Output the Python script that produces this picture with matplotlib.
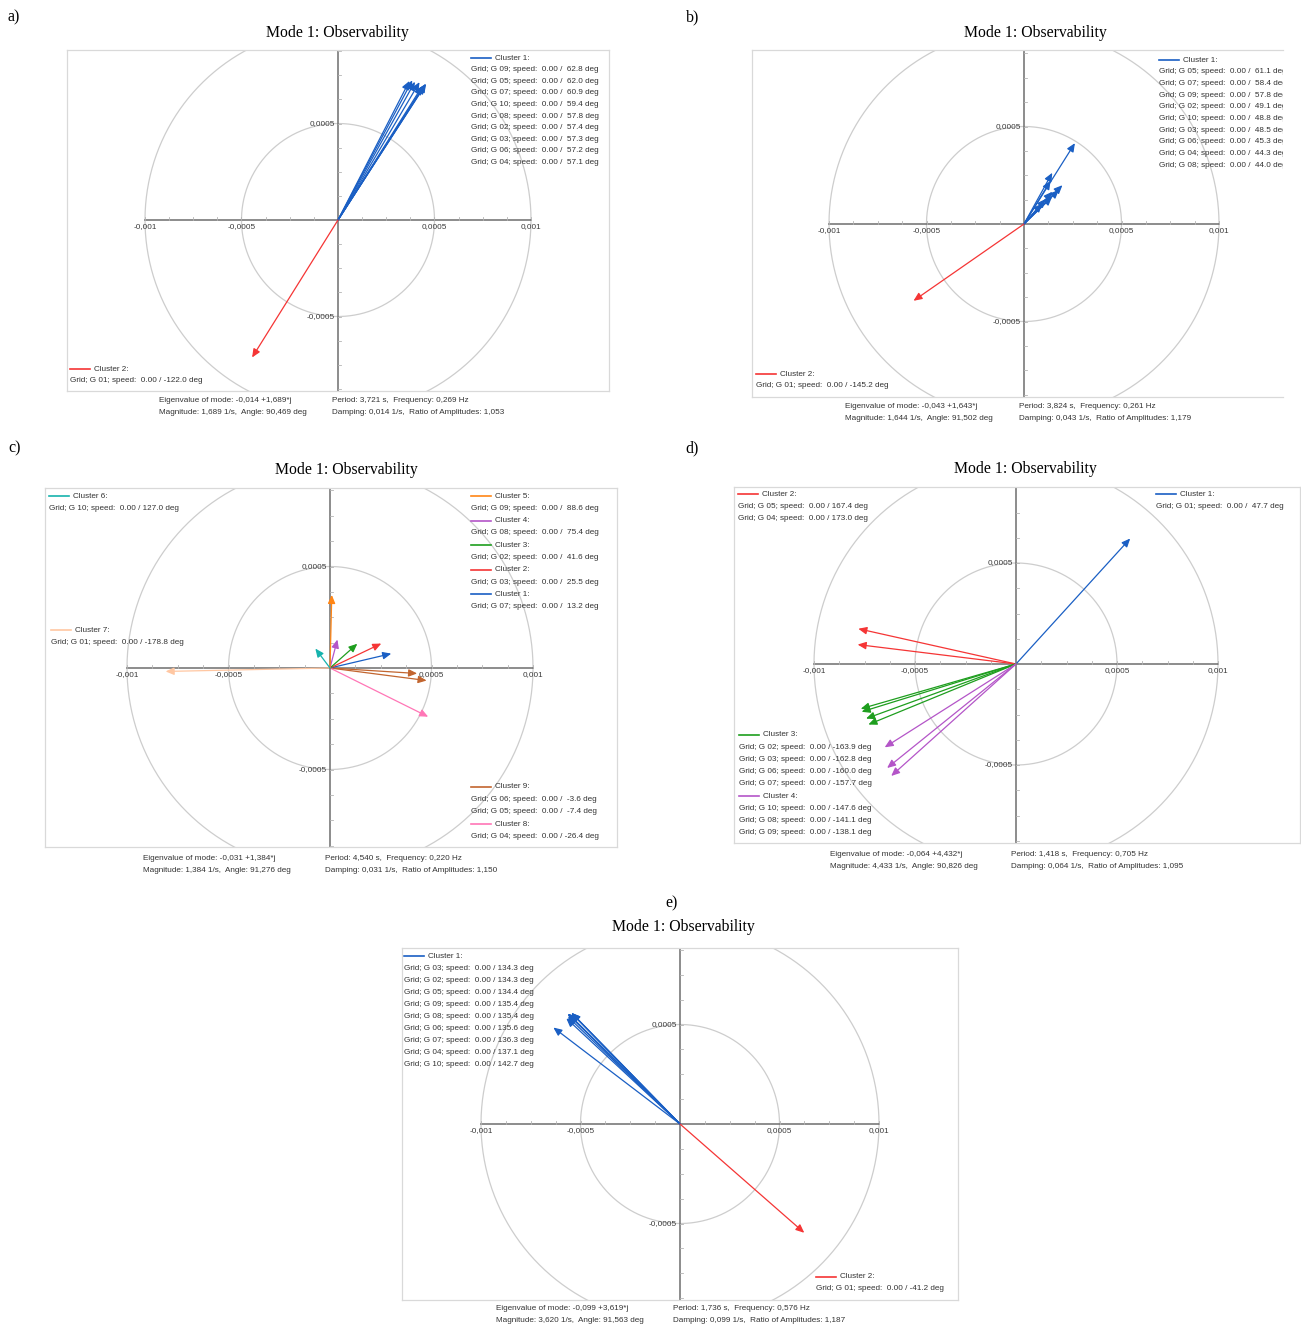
import numpy as np
import matplotlib
matplotlib.use("Agg")
import matplotlib.pyplot as plt

W, H = 1301, 1332
SANS = "Liberation Sans"
SERIF = "Liberation Serif"
FS = 5.9

# ---------------- data ----------------
# panel a
a_c1_grid = ["G 09", "G 05", "G 07", "G 10", "G 08", "G 02", "G 03", "G 06", "G 04"]
a_c1_ang = [62.8, 62.0, 60.9, 59.4, 57.8, 57.4, 57.3, 57.2, 57.1]
a_c1_mag = [0.00081, 0.00082, 0.00082, 0.00083, 0.00082, 0.00083, 0.00083, 0.00084, 0.00084]
a_c2_grid = ["G 01"]
a_c2_ang = [-122.0]
a_c2_mag = [0.00084]
a_info = ["Eigenvalue of mode: -0,014 +1,689*j", "Magnitude: 1,689 1/s,  Angle: 90,469 deg",
          "Period: 3,721 s,  Frequency: 0,269 Hz", "Damping: 0,014 1/s,  Ratio of Amplitudes: 1,053"]

# panel b
b_c1_grid = ["G 05", "G 07", "G 09", "G 02", "G 10", "G 03", "G 06", "G 04", "G 08"]
b_c1_ang = [61.1, 58.4, 57.8, 49.1, 48.8, 48.5, 45.3, 44.3, 44.0]
b_c1_mag = [0.00030, 0.00026, 0.00049, 0.00017, 0.00022, 0.00014, 0.00028, 0.00025, 0.00020]
b_c2_grid = ["G 01"]
b_c2_ang = [-145.2]
b_c2_mag = [0.00069]
b_info = ["Eigenvalue of mode: -0,043 +1,643*j", "Magnitude: 1,644 1/s,  Angle: 91,502 deg",
          "Period: 3,824 s,  Frequency: 0,261 Hz", "Damping: 0,043 1/s,  Ratio of Amplitudes: 1,179"]

# panel c
c_grid = {1: ["G 07"], 2: ["G 03"], 3: ["G 02"], 4: ["G 08"], 5: ["G 09"],
          6: ["G 10"], 7: ["G 01"], 8: ["G 04"], 9: ["G 06", "G 05"]}
c_ang = {1: [13.2], 2: [25.5], 3: [41.6], 4: [75.4], 5: [88.6],
         6: [127.0], 7: [-178.8], 8: [-26.4], 9: [-3.6, -7.4]}
c_mag = {1: [0.00031], 2: [0.00028], 3: [0.00018], 4: [0.000145], 5: [0.00036],
         6: [0.00012], 7: [0.00081], 8: [0.00054], 9: [0.00043, 0.00048]}
c_info = ["Eigenvalue of mode: -0,031 +1,384*j", "Magnitude: 1,384 1/s,  Angle: 91,276 deg",
          "Period: 4,540 s,  Frequency: 0,220 Hz", "Damping: 0,031 1/s,  Ratio of Amplitudes: 1,150"]

# panel d
d_grid = {1: ["G 01"], 2: ["G 05", "G 04"], 3: ["G 02", "G 03", "G 06", "G 07"],
          4: ["G 10", "G 08", "G 09"]}
d_ang = {1: [47.7], 2: [167.4, 173.0], 3: [-163.9, -162.8, -160.0, -157.7],
         4: [-147.6, -141.1, -138.1]}
d_mag = {1: [0.00084], 2: [0.00080, 0.00079], 3: [0.00080, 0.00080, 0.00079, 0.00079],
         4: [0.00077, 0.00082, 0.00083]}
d_info = ["Eigenvalue of mode: -0,064 +4,432*j", "Magnitude: 4,433 1/s,  Angle: 90,826 deg",
          "Period: 1,418 s,  Frequency: 0,705 Hz", "Damping: 0,064 1/s,  Ratio of Amplitudes: 1,095"]

# panel e
e_c1_grid = ["G 03", "G 02", "G 05", "G 09", "G 08", "G 06", "G 07", "G 04", "G 10"]
e_c1_ang = [134.3, 134.3, 134.4, 135.4, 135.4, 135.6, 136.3, 137.1, 142.7]
e_c1_mag = [0.00078, 0.00078, 0.00078, 0.00079, 0.00079, 0.00079, 0.00078, 0.00078, 0.00080]
e_c2_grid = ["G 01"]
e_c2_ang = [-41.2]
e_c2_mag = [0.00083]
e_info = ["Eigenvalue of mode: -0,099 +3,619*j", "Magnitude: 3,620 1/s,  Angle: 91,563 deg",
          "Period: 1,736 s,  Frequency: 0,576 Hz", "Damping: 0,099 1/s,  Ratio of Amplitudes: 1,187"]

tick_vals = [-0.001, -0.0005, 0.0005, 0.001]
tick_labels = ["-0,001", "-0,0005", "0,0005", "0,001"]

BLUE = "#1a5fc4"
RED = "#f53535"
GREEN = "#1e9e1e"
PURPLE = "#b455c8"
ORANGE = "#ff8515"
TEAL = "#16b3ad"
PEACH = "#ffc7a2"
PINK = "#ff76b6"
BROWN = "#c2652f"

fig = plt.figure(figsize=(W / 100, H / 100), dpi=100)


def row_text(grid, ang):
    return f"Grid; {grid}; speed:  0.00 / {ang:5.1f} deg"


def make_panel(box, origin, scale, hide_right=False):
    x0, y0, x1, y1 = box
    ax = fig.add_axes([x0 / W, 1 - y1 / H, (x1 - x0) / W, (y1 - y0) / H])
    ox, oy = origin
    s = scale * 1000.0
    ax.set_xlim((x0 - ox) / s, (x1 - ox) / s)
    ax.set_ylim((oy - y1) / s, (oy - y0) / s)
    ax.set_xticks([])
    ax.set_yticks([])
    for sp in ax.spines.values():
        sp.set_color("#d9d9d9")
        sp.set_linewidth(0.9)
    if hide_right:
        ax.spines["right"].set_visible(False)
    t = np.linspace(0, 2 * np.pi, 500)
    for r in (0.0005, 0.001):
        ax.plot(r * np.cos(t), r * np.sin(t), color="#cdcdcd", lw=0.9, zorder=1)
    ax.plot([-0.001, 0.001], [0, 0], color="#6e6e6e", lw=1.1, zorder=2)
    ax.axvline(0, color="#6e6e6e", lw=1.1, zorder=2)
    tl = 3.0 / s
    for k in range(-8, 9):
        if k == 0:
            continue
        v = k * 0.000125
        ax.plot([v, v], [0, tl], color="#b4b4b4", lw=0.6, zorder=2)
        ax.plot([0, tl], [v, v], color="#b4b4b4", lw=0.6, zorder=2)
    for v, lab in zip(tick_vals, tick_labels):
        ax.annotate(lab, (v, 0), xytext=(0, -2.5), textcoords="offset points",
                    ha="center", va="top", fontsize=FS, family=SANS, color="#3a3a3a")
        if abs(v) < 0.0008:
            ax.annotate(lab, (0, v), xytext=(-2.2, 0), textcoords="offset points",
                        ha="right", va="center", fontsize=FS, family=SANS, color="#3a3a3a")
    ax.box_px = box
    return ax


def arrows(ax, angs, mags, color):
    for a, m in zip(angs, mags):
        r = np.deg2rad(a)
        ax.annotate("", xy=(m * np.cos(r), m * np.sin(r)), xytext=(0, 0),
                    arrowprops=dict(arrowstyle="-|>,head_length=0.5,head_width=0.22",
                                    color=color, lw=0.9, shrinkA=0, shrinkB=0,
                                    mutation_scale=10), zorder=3)


def legend(ax, x, y, step, blocks, clip=False):
    x0, y0, x1, y1 = ax.box_px
    w, h = x1 - x0, y1 - y0
    i = 0
    for name, color, rows in blocks:
        yy = y + i * step
        fy = (y1 - yy) / h
        fx = (x - x0) / w
        ax.plot([fx, fx + 20 / w], [fy, fy], transform=ax.transAxes, color=color,
                lw=1.2, clip_on=False)
        ax.text(fx + 24 / w, fy, name, transform=ax.transAxes, ha="left", va="center",
                fontsize=FS, family=SANS, color="#333333", clip_on=clip)
        i += 1
        for r in rows:
            yy = y + i * step
            ax.text(fx, (y1 - yy) / h, r, transform=ax.transAxes, ha="left", va="center",
                    fontsize=FS, family=SANS, color="#333333", clip_on=clip)
            i += 1


def header(label, lx, ly, tx, ty):
    fig.text(lx / W, 1 - ly / H, label, ha="left", va="center", family=SERIF, fontsize=11.5)
    fig.text(tx / W, 1 - ty / H, "Mode 1: Observability", ha="center", va="center",
             family=SERIF, fontsize=11.3)


def info(lines, x1, x2, y):
    for k, (xx, txt) in enumerate(zip([x1, x1, x2, x2], lines)):
        yy = y + (k % 2) * 12
        fig.text(xx / W, 1 - yy / H, txt, ha="left", va="center", family=SANS,
                 fontsize=FS, color="#333333")


# ---------------- panel a ----------------
header("a)", 8, 17, 337, 33)
ax = make_panel((67, 50, 609, 391), (338, 220), 193)
arrows(ax, a_c1_ang, a_c1_mag, BLUE)
arrows(ax, a_c2_ang, a_c2_mag, RED)
legend(ax, 471, 58, 11.6, [("Cluster 1:", BLUE, [row_text(g, a) for g, a in zip(a_c1_grid, a_c1_ang)])])
legend(ax, 70, 369, 11.8, [("Cluster 2:", RED, [row_text(g, a) for g, a in zip(a_c2_grid, a_c2_ang)])])
info(a_info, 159, 332, 400)

# ---------------- panel b ----------------
header("b)", 686, 17, 1035, 33)
ax = make_panel((752, 50, 1283, 397), (1024, 224), 195, hide_right=True)
arrows(ax, b_c1_ang, b_c1_mag, BLUE)
arrows(ax, b_c2_ang, b_c2_mag, RED)
legend(ax, 1159, 60, 11.7, [("Cluster 1:", BLUE, [row_text(g, a) for g, a in zip(b_c1_grid, b_c1_ang)])], clip=True)
legend(ax, 756, 374, 11.8, [("Cluster 2:", RED, [row_text(g, a) for g, a in zip(b_c2_grid, b_c2_ang)])])
info(b_info, 845, 1019, 407)

# ---------------- panel c ----------------
header("c)", 8, 448, 346, 470)
ax = make_panel((45, 488, 617, 847), (330, 668), 203)
c_cols = {1: BLUE, 2: RED, 3: GREEN, 4: PURPLE, 5: ORANGE, 6: TEAL, 7: PEACH, 8: PINK, 9: BROWN}
for k in [7, 9, 8, 1, 2, 3, 4, 5, 6]:
    arrows(ax, c_ang[k], c_mag[k], c_cols[k])


def c_block(k):
    return (f"Cluster {k}:", c_cols[k], [row_text(g, a) for g, a in zip(c_grid[k], c_ang[k])])


legend(ax, 471, 496, 12.3, [c_block(5), c_block(4), c_block(3), c_block(2), c_block(1)])
legend(ax, 49, 496, 12.3, [c_block(6)])
legend(ax, 51, 630, 12.3, [c_block(7)])
legend(ax, 471, 787, 12.4, [c_block(9), c_block(8)])
info(c_info, 143, 325, 858)

# ---------------- panel d ----------------
header("d)", 685, 448, 1025, 469)
ax = make_panel((734, 487, 1300, 843), (1016, 664), 202)
d_cols = {1: BLUE, 2: RED, 3: GREEN, 4: PURPLE}
for k in [1, 2, 3, 4]:
    arrows(ax, d_ang[k], d_mag[k], d_cols[k])


def d_block(k):
    return (f"Cluster {k}:", d_cols[k], [row_text(g, a) for g, a in zip(d_grid[k], d_ang[k])])


legend(ax, 738, 494, 12.2, [d_block(2)])
legend(ax, 1156, 494, 12.2, [d_block(1)])
legend(ax, 739, 735, 12.2, [d_block(3), d_block(4)])
info(d_info, 830, 1011, 854)

# ---------------- panel e ----------------
header("e)", 665, 903, 683, 927)
ax = make_panel((402, 948, 958, 1300), (680, 1124), 199)
arrows(ax, e_c1_ang, e_c1_mag, BLUE)
arrows(ax, e_c2_ang, e_c2_mag, RED)
legend(ax, 404, 956, 12.0, [("Cluster 1:", BLUE, [row_text(g, a) for g, a in zip(e_c1_grid, e_c1_ang)])])
legend(ax, 816, 1277, 12.0, [("Cluster 2:", RED, [row_text(g, a) for g, a in zip(e_c2_grid, e_c2_ang)])])
info(e_info, 496, 673, 1309)

fig.savefig("out.png", dpi=100)
